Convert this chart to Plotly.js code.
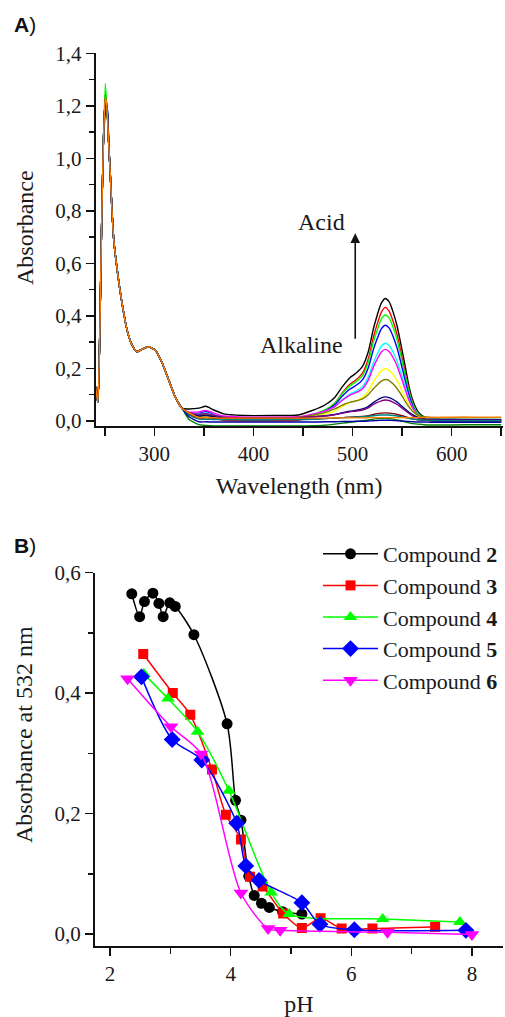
<!DOCTYPE html>
<html>
<head>
<meta charset="utf-8">
<script src="https://cdn.plot.ly/plotly-3.0.1.min.js"></script>
<style>html,body{margin:0;padding:0;background:#fff;}#chart{width:505px;height:1017px;}</style>
</head>
<body>
<div id="chart"></div>
<script>
// ---------- Panel A: UV-Vis spectra ----------
const wlUV = [240, 241, 243, 245, 246.5, 248.5, 250.5, 252, 254, 255.5, 257, 259, 262.5, 267.5, 272.5, 277.5, 282.5, 287.5, 294, 301, 308, 314.5, 321, 328];
const absUV = [0.14, 0.12, 0.07, 0.35, 0.69, 1.05, 1.24, 1.2, 1.05, 0.94, 0.82, 0.69, 0.575, 0.445, 0.345, 0.288, 0.263, 0.272, 0.282, 0.269, 0.219, 0.155, 0.091, 0.047];
const wlVis = [335, 345, 352, 360, 370, 390, 420, 445, 460, 472, 482, 490, 497, 504, 510, 516, 521, 525, 529, 533, 537, 541, 545, 549, 553, 557, 561, 566, 572, 580, 600, 625, 650];

const specNames = ['black','red','green','blue','cyan','magenta','yellow','darkyellow','navy','purple','wine','olive','darkcyan','royal','orange'];
const specColors = ['#000000','#FF0000','#00FF00','#0000FF','#00FFFF','#FF00FF','#FFFF00','#808000','#000080','#800080','#800000','#008000','#008080','#0000A0','#FF8000'];
const uvPeak = [1.22, 1.23, 1.285, 1.17, 1.2, 1.21, 1.22, 1.23, 1.2, 1.22, 1.23, 1.24, 1.22, 1.2, 1.235];

const specBlack = [0.045, 0.048, 0.055, 0.041, 0.026, 0.02, 0.02, 0.022, 0.04, 0.06, 0.089, 0.131, 0.163, 0.183, 0.207, 0.265, 0.35, 0.404, 0.448, 0.466, 0.453, 0.413, 0.36, 0.287, 0.21, 0.13, 0.075, 0.035, 0.015, 0.008, 0.006, 0.005, 0.004];
const specRed = [0.025, 0.012, 0.015, 0.009, 0.002, 0.0, 0.0, 0.002, 0.019, 0.039, 0.067, 0.108, 0.138, 0.157, 0.181, 0.237, 0.318, 0.37, 0.413, 0.432, 0.417, 0.378, 0.327, 0.258, 0.185, 0.116, 0.064, 0.026, 0.005, -0.002, -0.004, -0.004, -0.005];
const specGreen = [0.028, 0.021, 0.025, 0.017, 0.008, 0.005, 0.005, 0.007, 0.023, 0.041, 0.067, 0.105, 0.132, 0.15, 0.172, 0.224, 0.3, 0.347, 0.387, 0.403, 0.391, 0.355, 0.307, 0.243, 0.174, 0.11, 0.062, 0.028, 0.01, 0.003, 0.0, 0.0, 0.0];
const specBlue = [0.03, 0.029, 0.035, 0.023, 0.01, 0.005, 0.005, 0.007, 0.021, 0.037, 0.061, 0.095, 0.12, 0.136, 0.156, 0.203, 0.271, 0.314, 0.35, 0.364, 0.353, 0.32, 0.276, 0.217, 0.155, 0.097, 0.053, 0.022, 0.005, 0.0, -0.002, -0.002, -0.002];
const specCyan = [0.03, 0.026, 0.03, 0.022, 0.013, 0.01, 0.01, 0.011, 0.023, 0.036, 0.054, 0.081, 0.101, 0.114, 0.13, 0.167, 0.221, 0.255, 0.284, 0.295, 0.286, 0.261, 0.226, 0.18, 0.13, 0.083, 0.048, 0.023, 0.01, 0.006, 0.005, 0.005, 0.005];
const specMagenta = [0.033, 0.034, 0.039, 0.029, 0.018, 0.014, 0.014, 0.015, 0.026, 0.037, 0.054, 0.079, 0.097, 0.108, 0.122, 0.156, 0.205, 0.236, 0.262, 0.272, 0.263, 0.24, 0.208, 0.165, 0.12, 0.077, 0.045, 0.02, 0.008, 0.004, 0.003, 0.003, 0.003];
const specYellow = [0.028, 0.016, 0.018, 0.014, 0.009, 0.008, 0.008, 0.009, 0.017, 0.025, 0.037, 0.056, 0.069, 0.077, 0.088, 0.113, 0.149, 0.171, 0.19, 0.198, 0.192, 0.175, 0.152, 0.122, 0.09, 0.059, 0.036, 0.018, 0.008, 0.005, 0.004, 0.004, 0.004];
const specDarkYellow = [0.03, 0.02, 0.022, 0.018, 0.013, 0.012, 0.012, 0.013, 0.022, 0.031, 0.045, 0.06, 0.07, 0.076, 0.083, 0.1, 0.122, 0.137, 0.151, 0.157, 0.153, 0.14, 0.122, 0.1, 0.075, 0.052, 0.034, 0.021, 0.015, 0.013, 0.012, 0.012, 0.012];
const specNavy = [0.028, 0.018, 0.02, 0.016, 0.011, 0.01, 0.01, 0.011, 0.015, 0.019, 0.024, 0.031, 0.036, 0.04, 0.045, 0.055, 0.069, 0.079, 0.087, 0.091, 0.088, 0.081, 0.071, 0.058, 0.045, 0.032, 0.022, 0.013, 0.008, 0.005, 0.004, 0.004, 0.004];
const specPurple = [0.03, 0.024, 0.027, 0.021, 0.014, 0.012, 0.012, 0.012, 0.015, 0.018, 0.023, 0.029, 0.034, 0.037, 0.041, 0.049, 0.062, 0.07, 0.076, 0.079, 0.077, 0.07, 0.062, 0.051, 0.039, 0.028, 0.018, 0.01, 0.005, 0.003, 0.002, 0.002, 0.002];
const specWine = [0.026, 0.01, 0.011, 0.009, 0.007, 0.006, 0.006, 0.006, 0.007, 0.008, 0.01, 0.012, 0.014, 0.015, 0.016, 0.019, 0.024, 0.027, 0.029, 0.03, 0.029, 0.027, 0.024, 0.02, 0.016, 0.011, 0.007, 0.004, 0.002, 0.001, 0.0, 0.0, 0.0];
const specOlive = [0.005, -0.015, -0.018, -0.02, -0.02, -0.02, -0.02, -0.02, -0.019, -0.017, -0.013, -0.009, -0.006, -0.003, 0.0, 0.003, 0.006, 0.008, 0.009, 0.009, 0.008, 0.006, 0.003, 0.0, -0.004, -0.008, -0.011, -0.013, -0.015, -0.016, -0.016, -0.015, -0.015];
const specDarkCyan = [0.022, 0.006, 0.006, 0.005, 0.004, 0.004, 0.004, 0.004, 0.006, 0.008, 0.01, 0.012, 0.013, 0.014, 0.015, 0.017, 0.019, 0.021, 0.022, 0.022, 0.022, 0.02, 0.018, 0.015, 0.012, 0.009, 0.006, 0.004, 0.002, 0.001, 0.0, 0.0, 0.0];
const specRoyal = [0.015, -0.004, -0.004, -0.005, -0.005, -0.005, -0.005, -0.005, -0.005, -0.004, -0.004, -0.003, -0.003, -0.002, -0.002, -0.001, 0.0, 0.001, 0.002, 0.002, 0.002, 0.001, 0.0, -0.001, -0.002, -0.003, -0.004, -0.005, -0.005, -0.006, -0.006, -0.006, -0.006];
const specOrange = [0.03, 0.012, 0.012, 0.011, 0.01, 0.01, 0.01, 0.01, 0.01, 0.01, 0.011, 0.011, 0.011, 0.011, 0.011, 0.012, 0.012, 0.012, 0.012, 0.012, 0.012, 0.012, 0.012, 0.012, 0.012, 0.012, 0.012, 0.012, 0.012, 0.013, 0.014, 0.014, 0.014];

const specVis = [specBlack, specRed, specGreen, specBlue, specCyan, specMagenta, specYellow, specDarkYellow, specNavy, specPurple, specWine, specOlive, specDarkCyan, specRoyal, specOrange];

// ---------- Panel B: absorbance at 532 nm vs pH ----------
const compoundLabels = ['Compound <b>2</b>', 'Compound <b>3</b>', 'Compound <b>4</b>', 'Compound <b>5</b>', 'Compound <b>6</b>'];
const pH2 = [2.36, 2.49, 2.57, 2.71, 2.81, 2.88, 2.99, 3.08, 3.39, 3.94, 4.08, 4.17, 4.30, 4.39, 4.51, 4.64, 4.86, 5.18];
const abs2 = [0.565, 0.527, 0.552, 0.566, 0.549, 0.527, 0.550, 0.544, 0.497, 0.349, 0.222, 0.189, 0.096, 0.064, 0.051, 0.044, 0.037, 0.033];
const pH3 = [2.55, 3.04, 3.33, 3.69, 3.92, 4.17, 4.32, 4.53, 4.87, 5.18, 5.49, 5.84, 6.35, 7.39];
const abs3 = [0.465, 0.400, 0.364, 0.273, 0.198, 0.157, 0.095, 0.079, 0.034, 0.010, 0.026, 0.009, 0.009, 0.012];
const pH4 = [2.56, 2.96, 3.45, 3.97, 4.67, 4.97, 6.52, 7.80];
const abs4 = [0.432, 0.391, 0.336, 0.238, 0.069, 0.033, 0.025, 0.020];
const pH5 = [2.52, 3.03, 3.52, 4.10, 4.25, 4.47, 5.18, 5.48, 6.05, 7.90];
const abs5 = [0.427, 0.323, 0.289, 0.184, 0.113, 0.089, 0.052, 0.016, 0.007, 0.006];
const pH6 = [2.29, 3.01, 3.51, 4.17, 4.62, 4.82, 6.60, 8.00];
const abs6 = [0.424, 0.344, 0.299, 0.068, 0.009, 0.006, 0.003, -0.001];

const compX = [pH2, pH3, pH4, pH5, pH6];
const compY = [abs2, abs3, abs4, abs5, abs6];
const compColors = ['#000000', '#FF0000', '#00FF00', '#0000FF', '#FF00FF'];
const compSymbols = ['circle', 'square', 'triangle-up', 'diamond', 'triangle-down'];
const compSizes = [11, 10, 12, 13, 13];

const SERIF = '"Liberation Serif", "DejaVu Serif", serif';
const SANS = '"Liberation Sans", Arial, sans-serif';
const W = 505, H = 1017;
const px = v => v / W;
const py = v => 1 - v / H;

const traces = [];
specVis.forEach((vis, i) => {
  const uv = absUV.slice();
  uv[wlUV.indexOf(250.5)] = uvPeak[i];
  traces.push({
    type: 'scatter', mode: 'lines', name: specNames[i],
    x: wlUV.concat(wlVis), y: uv.concat(vis),
    xaxis: 'x', yaxis: 'y', showlegend: false, hoverinfo: 'skip',
    line: {color: specColors[i], width: 1.4, shape: 'spline', smoothing: 0.6}
  });
});
compX.forEach((xs, i) => {
  traces.push({
    type: 'scatter', mode: 'lines+markers', name: compoundLabels[i],
    x: xs, y: compY[i], xaxis: 'x2', yaxis: 'y2',
    line: {color: compColors[i], width: 1.5, shape: 'spline', smoothing: 0.8},
    marker: {color: compColors[i], symbol: compSymbols[i], size: compSizes[i], line: {width: 0}}
  });
});

const axisCommon = {
  showline: true, linecolor: '#111', linewidth: 2, mirror: false,
  ticks: 'outside', ticklen: 8, tickwidth: 1.5, tickcolor: '#111',
  showgrid: false, zeroline: false, automargin: false,
  tickfont: {family: SERIF, size: 21, color: '#1a1a1a'}
};

const layout = {
  width: W, height: H,
  margin: {l: 0, r: 0, t: 0, b: 0, autoexpand: false},
  paper_bgcolor: '#fff', plot_bgcolor: 'rgba(0,0,0,0)',
  separators: ', ',
  font: {family: SERIF, color: '#1a1a1a', size: 21},
  showlegend: true,
  legend: {
    x: px(318), xanchor: 'left', y: py(533), yanchor: 'top',
    font: {family: SERIF, size: 22, color: '#1a1a1a'},
    itemwidth: 55, bgcolor: 'rgba(0,0,0,0)', borderwidth: 0, traceorder: 'normal'
  },
  xaxis: Object.assign({}, axisCommon, {
    domain: [px(95.7), px(502.7)], range: [240.8, 651.5], anchor: 'y',
    tick0: 0, dtick: 100,
    minor: {dtick: 50, ticklen: 8, tickwidth: 1.5, tickcolor: '#111', ticks: 'outside'},
    title: {text: 'Wavelength (nm)', font: {family: SERIF, size: 24, color: '#1a1a1a'}, standoff: 12}
  }),
  yaxis: Object.assign({}, axisCommon, {
    domain: [py(426), py(53.3)], range: [-0.02, 1.4], anchor: 'x',
    tick0: 0, dtick: 0.2, tickformat: '.1f',
    minor: {dtick: 0.1, ticklen: 5, tickwidth: 1.5, tickcolor: '#111', ticks: 'outside'}
  }),
  xaxis2: Object.assign({}, axisCommon, {
    domain: [px(95), px(502.7)], range: [1.75, 8.51], anchor: 'y2',
    tick0: 0, dtick: 2,
    minor: {dtick: 1, ticklen: 6, tickwidth: 1.5, tickcolor: '#111', ticks: 'outside'},
    title: {text: 'pH', font: {family: SERIF, size: 24, color: '#1a1a1a'}, standoff: 12}
  }),
  yaxis2: Object.assign({}, axisCommon, {
    domain: [py(945.7), py(572.7)], range: [-0.0195, 0.6], anchor: 'x2',
    tick0: 0, dtick: 0.2, tickformat: '.1f',
    minor: {dtick: 0.1, ticklen: 5, tickwidth: 1.5, tickcolor: '#111', ticks: 'outside'}
  }),
  annotations: [
    {xref: 'paper', yref: 'paper', x: px(12), y: py(25), xanchor: 'left', yanchor: 'middle', showarrow: false,
     text: '<b>A</b>)', font: {family: SANS, size: 21, color: '#111'}},
    {xref: 'paper', yref: 'paper', x: px(12), y: py(545), xanchor: 'left', yanchor: 'middle', showarrow: false,
     text: '<b>B</b>)', font: {family: SANS, size: 21, color: '#111'}},
    {xref: 'paper', yref: 'paper', x: px(25), y: py(228), xanchor: 'center', yanchor: 'middle', showarrow: false,
     textangle: -90, text: 'Absorbance', font: {family: SERIF, size: 24, color: '#1a1a1a'}},
    {xref: 'paper', yref: 'paper', x: px(24), y: py(735), xanchor: 'center', yanchor: 'middle', showarrow: false,
     textangle: -90, text: 'Absorbance at 532 nm', font: {family: SERIF, size: 24, color: '#1a1a1a'}},
    {xref: 'x', yref: 'y', x: 468.9, y: 0.757, xanchor: 'center', yanchor: 'middle', showarrow: false,
     text: 'Acid', font: {family: SERIF, size: 24, color: '#1a1a1a'}},
    {xref: 'x', yref: 'y', x: 492.6, y: 0.288, xanchor: 'right', yanchor: 'middle', showarrow: false,
     text: 'Alkaline', font: {family: SERIF, size: 24, color: '#1a1a1a'}},
    {xref: 'x', yref: 'y', x: 502.7, y: 0.714, axref: 'x', ayref: 'y', ax: 502.7, ay: 0.307,
     showarrow: true, arrowhead: 2, arrowsize: 1.2, arrowwidth: 1.6, arrowcolor: '#111', text: ''}
  ]
};

Plotly.newPlot('chart', traces, layout, {staticPlot: true, displayModeBar: false});
</script>
</body>
</html>
